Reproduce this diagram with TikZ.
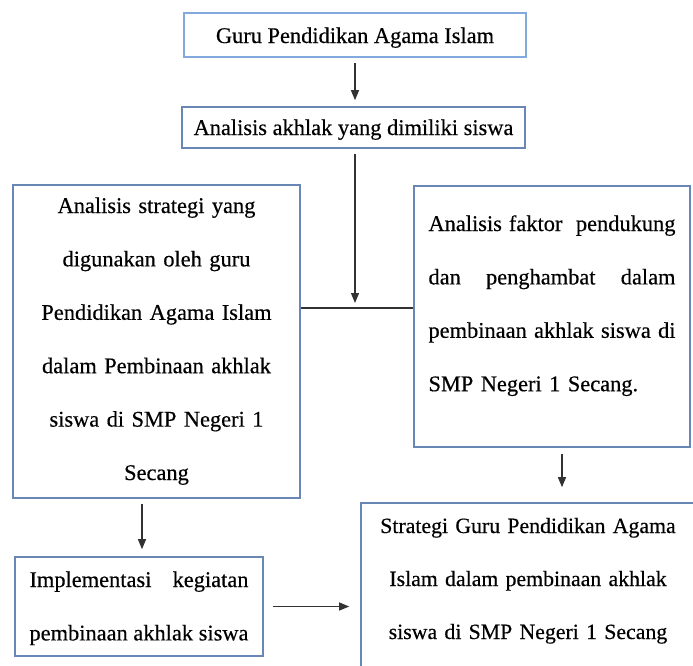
\documentclass[tikz,border=0pt]{standalone}
\usepackage{fontspec}
\setmainfont{Liberation Serif}[FakeBold=0.4]
\usetikzlibrary{arrows.meta}
\definecolor{boxcol}{RGB}{105,135,180}
\definecolor{boxlight}{RGB}{130,170,220}
\definecolor{linecol}{RGB}{50,50,50}
\newcommand{\spreadline}[2]{\makebox[#1][l]{#2}}
\begin{document}
\begin{tikzpicture}[x=1pt,y=-1pt,
  bx/.style={draw=boxcol, line width=1.6pt, inner ysep=0pt, anchor=base,
             font=\fontsize{22.4}{53.4}\selectfont},
  conn/.style={draw=linecol, line width=1.2pt},
  arr/.style={conn, -{Triangle[length=10pt,width=8pt]}}]
\useasboundingbox (0,0) rectangle (693,665);
\clip (0,0) rectangle (693,665);

\node[bx, draw=boxlight, minimum width=342pt, text height=30pt, text depth=14pt]
  (top) at (355,43) {Guru Pendidikan Agama Islam};
\node[bx, minimum width=343pt, text height=28pt, text depth=13pt]
  (ana) at (353.5,135) {Analisis akhlak yang dimiliki siswa};
\node[bx, align=center, text width=267pt, inner xsep=10pt, text height=28pt, text depth=285pt]
  (strat) at (156.5,213) {Analisis strategi yang\\ digunakan oleh guru\\ Pendidikan Agama Islam\\ dalam Pembinaan akhlak\\ siswa di SMP Negeri 1\\ Secang};
\node[bx, align=left, text width=247pt, inner xsep=14.5pt, text height=45pt, text depth=216pt]
  (faktor) at (552,231) {\spreadline{247pt}{Analisis\hspace{7pt}faktor\hfill pendukung}\\
   \spreadline{247pt}{dan\hfill penghambat\hfill dalam}\\
   \spreadline{247pt}{pembinaan\hfill akhlak\hfill siswa\hfill di}\\
   SMP Negeri 1 Secang.};
\node[bx, align=left, text width=219pt, inner xsep=14.5pt, text height=30pt, text depth=69pt]
  (impl) at (139,587) {\spreadline{219pt}{Implementasi\hfill kegiatan}\\
   \spreadline{219pt}{pembinaan\hfill akhlak\hfill siswa}};
\node[bx, align=center, text width=314pt, inner xsep=10pt, text height=30pt, text depth=200pt,
      font=\fontsize{21.8}{53}\selectfont]
  (hasil) at (528,533) {Strategi Guru Pendidikan Agama\\ Islam dalam pembinaan akhlak\\ siswa di SMP Negeri 1 Secang};

\coordinate (junc) at (355,308);

\draw[arr, shorten <=5pt, shorten >=6pt] (top.south) -- (top.south |- ana.north);
\draw[arr, shorten <=5pt, shorten >=5pt] (ana.south -| junc) -- (junc);
\draw[conn] (strat.east |- junc) -- (faktor.west |- junc);
\draw[arr, shorten <=6pt, shorten >=15pt] ([xshift=10pt]faktor.south) -- ([xshift=10pt]faktor.south |- hasil.north);
\draw[arr, shorten <=5pt, shorten >=7pt] ([xshift=-14.5pt]strat.south) -- ([xshift=-14.5pt]strat.south |- impl.north);
\draw[arr, shorten <=9pt, shorten >=11pt] (impl.east) -- (impl.east -| hasil.west);
\end{tikzpicture}
\end{document}
